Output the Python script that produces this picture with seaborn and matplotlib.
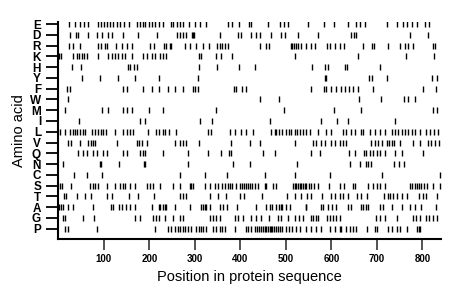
import pandas as pd
import matplotlib.pyplot as plt
import seaborn as sns

# amino acids, top to bottom
amino_acids = ['E', 'D', 'R', 'K', 'H', 'Y', 'F', 'W', 'M', 'I',
               'L', 'V', 'Q', 'N', 'C', 'S', 'T', 'A', 'G', 'P']

# positions of each residue in the sequence
pos_E = [23, 36, 47, 57, 64, 87, 93, 100, 106, 113, 120, 128, 135, 144, 156, 173, 179, 185,
         191, 199, 206, 213, 222, 230, 247, 252, 260, 267, 273, 287, 300, 311, 324, 373, 382,
         396, 419, 423, 460, 486, 495, 505, 548, 583, 605, 636, 653, 662, 674, 721, 744, 757,
         766, 776, 787, 805, 814]
pos_D = [25, 38, 44, 66, 84, 95, 109, 118, 142, 175, 216, 260, 267, 274, 280, 294, 296, 298,
         355, 395, 402, 424, 435, 443, 468, 490, 497, 527, 571, 644, 649, 655, 772, 812]
pos_R = [23, 31, 47, 87, 93, 102, 106, 126, 139, 150, 161, 201, 210, 232, 237, 245, 248, 278,
         289, 303, 318, 331, 349, 355, 360, 366, 373, 443, 457, 463, 510, 514, 517, 521, 527,
         534, 543, 556, 563, 590, 596, 607, 618, 627, 669, 688, 693, 724, 750, 761, 768, 779,
         823, 828]
pos_K = [2, 5, 31, 40, 45, 51, 56, 63, 87, 109, 117, 124, 131, 139, 146, 161, 186, 194, 205,
         212, 223, 230, 236, 309, 314, 347, 358, 382, 519, 658, 763, 825]
pos_H = [30, 50, 152, 158, 165, 172, 309, 349, 397, 431, 558, 585, 593, 630, 634, 707]
pos_Y = [52, 91, 131, 168, 221, 307, 585, 589, 682, 688, 721, 822, 832]
pos_F = [18, 25, 141, 150, 185, 205, 221, 240, 257, 274, 295, 300, 307, 385, 391, 404, 412,
         554, 583, 589, 600, 611, 620, 629, 639, 647, 658, 691, 801, 829]
pos_W = [22, 443, 484, 661, 708, 759, 768, 784]
pos_M = [14, 95, 109, 142, 151, 162, 199, 230, 347, 495, 606, 664, 823, 833]
pos_I = [46, 180, 190, 311, 338, 464, 578, 612, 636, 739]
pos_L = [3, 14, 25, 33, 36, 40, 47, 53, 59, 73, 80, 86, 93, 98, 104, 124, 141, 150, 157, 164,
         197, 214, 221, 229, 235, 243, 259, 329, 336, 377, 388, 401, 413, 428, 468, 475, 479,
         485, 492, 500, 506, 512, 519, 525, 530, 538, 544, 552, 570, 589, 600, 626, 633, 644,
         651, 664, 669, 684, 696, 706, 717, 734, 739, 746, 754, 761, 768, 776, 783, 794, 808,
         816, 825, 834]
pos_V = [22, 27, 47, 66, 71, 76, 80, 128, 172, 177, 183, 194, 256, 267, 273, 281, 309, 380,
         422, 443, 519, 560, 565, 578, 585, 598, 607, 618, 625, 631, 686, 695, 702, 710, 721,
         727, 732, 738, 750, 779, 795, 812, 819, 827, 836]
pos_Q = [44, 55, 63, 76, 84, 98, 107, 141, 151, 179, 186, 190, 229, 284, 329, 358, 375, 379,
         450, 475, 554, 574, 639, 651, 672, 675, 684, 691, 699, 706, 717, 739, 754, 801]
pos_N = [11, 91, 93, 133, 188, 191, 284, 384, 420, 525, 640, 662, 675, 680, 686, 737, 748, 759]
pos_C = [34, 63, 95, 267, 322, 371, 455, 519, 596, 710, 839]
pos_S = [3, 7, 27, 69, 75, 80, 87, 107, 124, 135, 141, 146, 157, 169, 194, 202, 208, 223, 252,
         267, 289, 292, 296, 322, 334, 344, 351, 360, 366, 373, 377, 382, 390, 400, 404, 407,
         412, 417, 422, 426, 431, 439, 453, 457, 472, 479, 516, 519, 523, 527, 530, 534, 538,
         541, 545, 551, 556, 561, 570, 595, 618, 627, 647, 651, 680, 691, 699, 706, 717, 772,
         778, 783, 788, 792, 797, 803, 809, 823, 838]
pos_T = [12, 16, 40, 58, 71, 107, 118, 156, 175, 210, 267, 274, 281, 334, 351, 368, 399, 407,
         448, 502, 519, 534, 546, 556, 580, 600, 607, 618, 625, 636, 657, 666, 677, 715, 724,
         729, 735, 744, 754, 766, 792, 801, 807, 832]
pos_A = [2, 5, 11, 20, 33, 75, 115, 120, 134, 139, 148, 158, 168, 205, 221, 224, 230, 235,
         237, 256, 289, 314, 318, 322, 325, 333, 355, 362, 371, 393, 434, 457, 464, 470, 479,
         485, 489, 492, 500, 508, 543, 545, 576, 582, 593, 602, 611, 636, 644, 666, 669, 675,
         680, 706, 713, 732, 756, 773, 783, 797, 830]
pos_G = [11, 14, 53, 79, 168, 180, 207, 214, 221, 235, 252, 267, 274, 334, 340, 346, 356, 388,
         395, 406, 424, 435, 446, 463, 483, 490, 505, 519, 528, 538, 554, 560, 565, 570, 590,
         596, 604, 611, 618, 697, 707, 717, 743, 779, 785, 795, 807, 814, 823, 832]
pos_P = [14, 20, 85, 213, 241, 248, 256, 262, 267, 273, 278, 285, 291, 303, 309, 313, 318, 325,
         340, 346, 355, 360, 366, 388, 412, 417, 424, 431, 437, 441, 446, 450, 453, 457, 461,
         465, 468, 470, 473, 478, 483, 486, 492, 500, 507, 514, 522, 530, 545, 556, 565, 578,
         596, 607, 618, 622, 633, 640, 647, 655, 678, 695, 700, 724, 734, 743, 750, 766, 787,
         792, 795]

positions = [pos_E, pos_D, pos_R, pos_K, pos_H, pos_Y, pos_F, pos_W, pos_M, pos_I,
             pos_L, pos_V, pos_Q, pos_N, pos_C, pos_S, pos_T, pos_A, pos_G, pos_P]

x_ticks = [100, 200, 300, 400, 500, 600, 700, 800]
seq_length = 840

rows = []
for aa, plist in zip(amino_acids, positions):
    for p in plist:
        rows.append({'aa': aa, 'pos': p})
df = pd.DataFrame(rows)

#%% plot
sns.set_style('ticks')
plt.rcParams['font.family'] = ['Liberation Sans', 'DejaVu Sans']
plt.rcParams['text.color'] = 'black'
plt.rcParams['axes.labelcolor'] = 'black'
plt.rcParams['xtick.color'] = 'black'
plt.rcParams['ytick.color'] = 'black'

fig = plt.figure(figsize=(4.6, 2.99), dpi=100)
ax = fig.add_axes([0.127, 0.2017, 0.831, 0.725])

sns.stripplot(data=df, x='pos', y='aa', order=amino_acids, jitter=False,
              marker='|', size=4.5, linewidth=1.0, color='black',
              edgecolor='black', ax=ax)

ax.set_xlim(0, seq_length)
ax.set_ylim(19.93, -0.2)
ax.set_xticks(x_ticks)
ax.set_xticklabels([str(t) for t in x_ticks], fontsize=7, fontweight='bold')
ax.set_yticks(range(len(amino_acids)))
ax.set_yticklabels(amino_acids, fontsize=8.5, fontweight='bold')
ax.tick_params(axis='y', left=True, length=8.5, width=1.3, pad=4, color='black',
               labelcolor='black')
ax.tick_params(axis='x', bottom=True, length=8, width=1.3, pad=3, color='#444444',
               labelcolor='black')

sns.despine(ax=ax)
for side in ['left', 'bottom']:
    ax.spines[side].set_linewidth(1.5)
    ax.spines[side].set_color('black')

ax.set_xlabel('Position in protein sequence', fontsize=10.5, labelpad=4, color='black')
ax.set_ylabel('Amino acid', fontsize=10.5, labelpad=3, color='black')

fig.savefig('out.png', dpi=100)
